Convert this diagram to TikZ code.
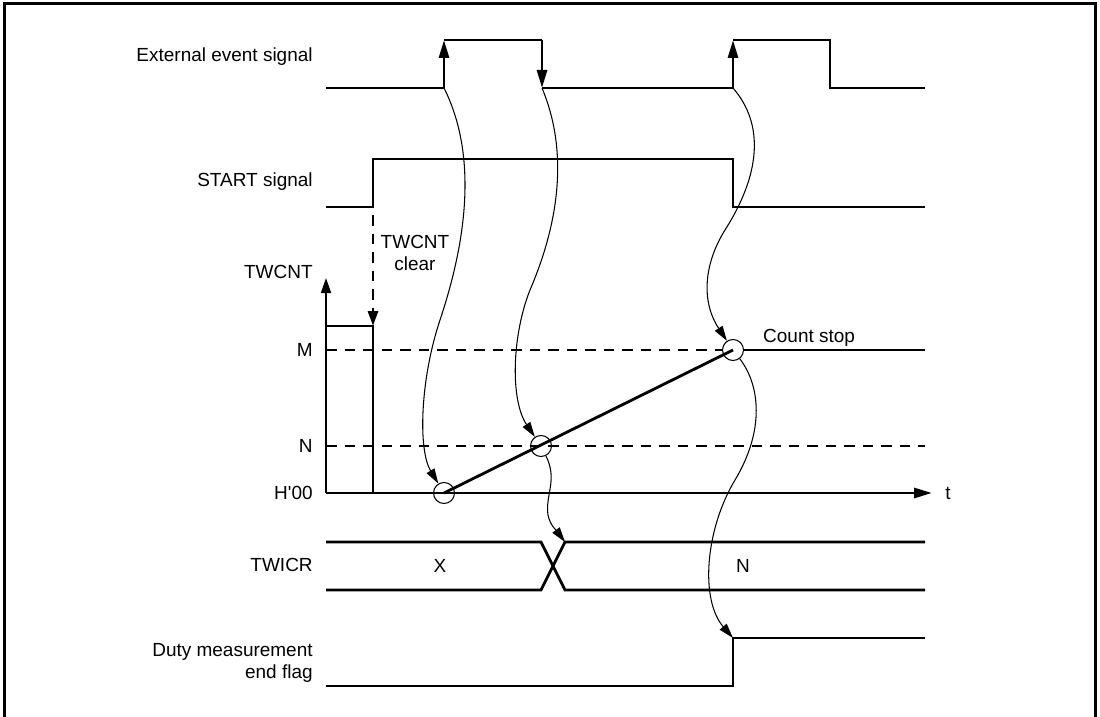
\documentclass[tikz,border=0pt]{standalone}
\usepackage{fontspec}
\setmainfont{Liberation Sans}
\usepackage{tikz}
\usetikzlibrary{arrows.meta}

\begin{document}
\begin{tikzpicture}[
    x=0.2mm, y=-0.2mm,
    font=\fontsize{10.8}{13}\selectfont,
    sig/.style={line width=1.6pt},
    axis/.style={line width=1pt},
    level/.style={line width=1.6pt, dash pattern=on 2.1mm off 1.6mm},
    edge/.style={-{Triangle[length=3.6mm, width=2mm]}, line width=1.6pt},
    cause/.style={-{Triangle[length=3mm, width=1.8mm]}, line width=0.6pt},
    ring/.style={circle, draw, line width=0.6pt, minimum size=4.2mm, inner sep=0pt},
    lbl/.style={anchor=east, align=right, inner sep=0pt}
]
\useasboundingbox (0,0) rectangle (1100,717);
\draw[line width=0.6mm] (4,730) -- (4,4) -- (1095,4) -- (1095,730);

\node[lbl] (extlbl) at (313,57) {External event signal};
\node[lbl] (startlbl) at (313,182) {START signal};
\node[lbl] (cntlbl) at (313,272) {TWCNT};
\node[lbl] (mlbl) at (313,350) {M};
\node[lbl] (nlbl) at (313,446) {N};
\node[lbl] (zerolbl) at (313,493) {H\textquotesingle 00};
\node[lbl] (icrlbl) at (313,565) {TWICR};
\node[lbl] (flaglbl) at (313,663) {Duty measurement\\end flag};

\coordinate (e1) at (444,88);
\coordinate (e2) at (542,88);
\coordinate (e3) at (733,88);
\coordinate (x1) at (565,542);
\coordinate (f1) at (733,638);

\draw[sig] (326,88) -- (e1);
\draw[edge] (e1) -- (444,40);
\draw[sig] (444,40) -- (542,40);
\draw[edge] (542,40) -- (e2);
\draw[sig] (e2) -- (e3);
\draw[edge] (e3) -- (733,40);
\draw[sig] (733,40) -- (830,40) -- (830,88) -- (925,88);

\draw[sig] (326,207) -- (373,207) -- (373,159) -- (733,159) -- (733,207) -- (925,207);

\draw[axis, -{Triangle[length=3mm, width=2mm]}] (326,493) -- (326,278);
\draw[axis] (326,493) -- (373,493);
\draw[sig, -{Triangle[length=3.6mm, width=2mm]}] (373,493) -- (932,493)
    node[right=1.2mm] (tlbl) {t};
\draw[sig] (326,326) -- (373,326) -- (373,493);
\draw[level, -{Triangle[length=3mm, width=2mm]}] (373,215) -- (373,326);
\node[align=center] (clearlbl) at (415,253) {TWCNT\\clear};

\node[ring] (c0) at (444,493) {};
\node[ring] (cN) at (541,446) {};
\node[ring] (cM) at (733,350) {};

\draw[level] (326,350) -- (cM.west);
\draw[sig] (cM.east) -- (925,350);
\draw[level] (326,446) -- (925,446);
\draw[sig] (c0.center) -- (cM.center);
\node[anchor=west] (stoplbl) at (757,338) {Count stop};

\draw[sig] (326,542) -- (541,542) -- (565,590) -- (925,590);
\draw[sig] (326,590) -- (541,590) -- (x1) -- (925,542);
\node (xval) at (440,566) {X};
\node (nval) at (743,566) {N};

\draw[sig] (326,686) -- (733,686) -- (f1) -- (925,638);

\draw[cause] (e1) .. controls (475,150) and (470,230) .. (440,320)
    .. controls (420,380) and (418,450) .. (c0);
\draw[cause] (e2) .. controls (568,150) and (560,220) .. (530,290)
    .. controls (512,335) and (510,400) .. (cN);
\draw[cause] (e3) .. controls (765,125) and (760,175) .. (725,230)
    .. controls (705,262) and (700,300) .. (cM);
\draw[cause] (cM) .. controls (760,385) and (765,430) .. (735,480)
    .. controls (705,530) and (700,600) .. (f1);
\draw[cause] (cN) .. controls (558,480) and (545,495) .. (548,515)
    .. controls (550,525) and (556,530) .. (x1);
\end{tikzpicture}
\end{document}
